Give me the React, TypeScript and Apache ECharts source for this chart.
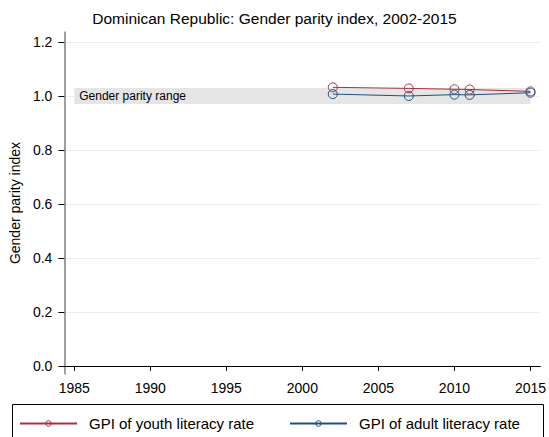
import React, { useEffect, useRef } from 'react';
import * as echarts from 'echarts';

const titleText = 'Dominican Republic: Gender parity index, 2002-2015';
const yAxisTitle = 'Gender parity index';
const seriesNames = ['GPI of youth literacy rate', 'GPI of adult literacy rate'];
const years = [2002, 2007, 2010, 2011, 2015];
const youthGPI = [1.032, 1.028, 1.025, 1.024, 1.017];
const adultGPI = [1.007, 1.0, 1.005, 1.004, 1.012];
const xTicks = [1985, 1990, 1995, 2000, 2005, 2010, 2015];
const yTicks = [0, 0.2, 0.4, 0.6, 0.8, 1.0, 1.2];
const parityRange = [0.97, 1.03];
const rangeYears = [1985, 2015];
const rangeLabel = 'Gender parity range';

const FONT = '"Liberation Sans", Arial, sans-serif';
const RED = '#a8323e';
const BLUE = '#1f4f82';

export default function App() {
  const ref = useRef<HTMLDivElement>(null);
  useEffect(() => {
    if (!ref.current) return;
    const chart = echarts.init(ref.current, null, { renderer: 'svg' });
    const mk = (vals: number[]) => years.map((y, i) => [y, vals[i]]);
    const legendBase = {
      top: 416,
      padding: 0,
      itemWidth: 57,
      itemHeight: 7,
      itemStyle: { color: 'rgba(255,255,255,0)', borderWidth: 1 },
      textStyle: { fontSize: 15, color: '#000', fontFamily: FONT, padding: [0, 0, 0, 7] },
    };
    const lineSeries = (name: string, vals: number[], color: string) => ({
      name,
      type: 'line',
      data: mk(vals),
      color,
      symbol: 'circle',
      symbolSize: 9,
      lineStyle: { width: 1, color },
      itemStyle: { color: 'rgba(255,255,255,0)', borderColor: color, borderWidth: 1 },
      emphasis: { disabled: true },
      z: 3,
    });
    chart.setOption({
      animation: false,
      backgroundColor: '#fff',
      textStyle: { fontFamily: FONT },
      title: {
        text: titleText,
        left: 'center',
        top: 10,
        padding: 0,
        textStyle: { fontSize: 15.5, fontWeight: 'normal', color: '#000', fontFamily: FONT },
      },
      grid: { left: 62, right: 8, top: 32, bottom: 63, containLabel: false },
      legend: [
        { ...legendBase, left: 19, data: [seriesNames[0]] },
        { ...legendBase, left: 289, data: [seriesNames[1]] },
      ],
      graphic: [
        {
          type: 'rect',
          shape: { x: 12.5, y: 404.5, width: 531, height: 40 },
          style: { fill: 'none', stroke: '#000', lineWidth: 1 },
          silent: true,
        },
      ],
      xAxis: {
        type: 'value',
        min: 1984.35,
        max: 2015.65,
        axisLine: { show: true, lineStyle: { color: '#000', width: 1 } },
        axisTick: { show: true, length: 5, lineStyle: { color: '#000' }, customValues: xTicks },
        axisLabel: {
          customValues: xTicks,
          fontSize: 14,
          color: '#000',
          margin: 7,
          fontFamily: FONT,
          formatter: (v: number) => String(Math.round(v)),
        },
        splitLine: { show: false },
      },
      yAxis: {
        type: 'value',
        min: -0.03,
        max: 1.237,
        name: yAxisTitle,
        nameLocation: 'middle',
        nameGap: 42,
        nameTextStyle: { fontSize: 14, color: '#000', fontFamily: FONT },
        axisLine: { show: true, lineStyle: { color: '#808080', width: 1.5 } },
        axisTick: { show: true, length: 6, lineStyle: { color: '#000' }, customValues: yTicks },
        axisLabel: {
          customValues: yTicks,
          fontSize: 14,
          color: '#000',
          margin: 12,
          fontFamily: FONT,
          formatter: (v: number) => v.toFixed(1),
        },
        splitLine: { show: true, lineStyle: { color: '#ececec', width: 1 } },
      },
      series: [
        {
          ...lineSeries(seriesNames[0], youthGPI, RED),
          markArea: {
            silent: true,
            itemStyle: { color: '#e5e5e5' },
            label: {
              show: true,
              position: 'insideLeft',
              distance: 5,
              fontSize: 12,
              color: '#000',
              fontFamily: FONT,
            },
            data: [
              [
                { name: rangeLabel, coord: [rangeYears[0], parityRange[0]] },
                { coord: [rangeYears[1], parityRange[1]] },
              ],
            ],
          },
        },
        lineSeries(seriesNames[1], adultGPI, BLUE),
      ],
    });
    return () => chart.dispose();
  }, []);
  return <div ref={ref} style={{ width: 549, height: 437, position: 'absolute', left: 0, top: 0 }} />;
}
